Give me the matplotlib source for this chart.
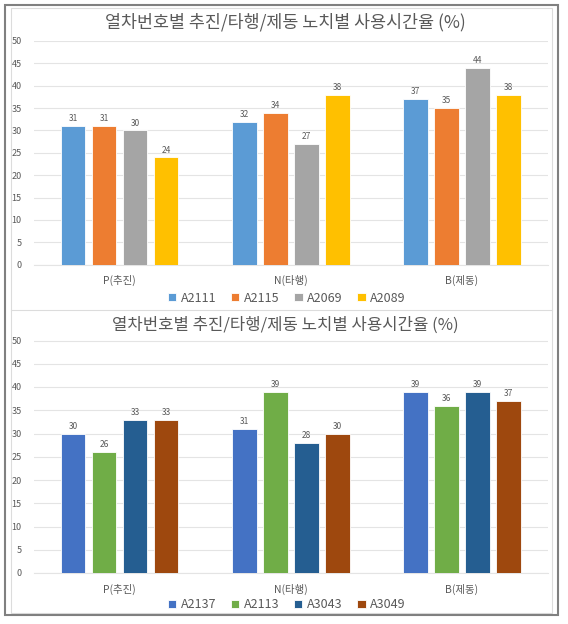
import matplotlib
matplotlib.use('Agg')
import matplotlib.pyplot as plt
from matplotlib.patches import Rectangle
from matplotlib.lines import Line2D
import numpy as np

plt.rcParams['font.family'] = ['Noto Sans CJK KR', 'DejaVu Sans']

title = '열차번호별 추진/타행/제동 노치별 사용시간율 (%)'
categories = ['P(추진)', 'N(타행)', 'B(제동)']

top_names = ['A2111', 'A2115', 'A2069', 'A2089']
top_values = [
	[31, 32, 37],
	[31, 34, 35],
	[30, 27, 44],
	[24, 38, 38],
]
top_colors = ['#5B9BD5', '#ED7D31', '#A5A5A5', '#FFC000']

bot_names = ['A2137', 'A2113', 'A3043', 'A3049']
bot_values = [
	[30, 31, 39],
	[26, 39, 36],
	[33, 28, 39],
	[33, 30, 37],
]
bot_colors = ['#4472C4', '#70AD47', '#255E91', '#9E480E']

W, H = 568, 624
fig = plt.figure(figsize=(W / 100, H / 100), dpi=100)
fig.patch.set_facecolor('white')

TXT = '#595959'


def fy(px):
	return 1 - px / H


def draw_chart(rect, names, values, colors, title_y, legend_y, tsize):
	ax = fig.add_axes(rect)
	x = np.arange(len(categories))
	step = 0.181
	width = 0.143
	for i, (name, vals, col) in enumerate(zip(names, values, colors)):
		off = (i - 1.5) * step
		bars = ax.bar(x + off, vals, width, color=col, edgecolor='white',
			linewidth=0.6, label=name, zorder=3)
		for b, v in zip(bars, vals):
			ax.text(b.get_x() + b.get_width() / 2, v + 0.6, str(v),
				ha='center', va='bottom', fontsize=6, color=TXT)
	ax.set_xlim(-0.5, 2.5)
	ax.set_ylim(0, 50)
	ax.set_yticks(range(0, 51, 5))
	ax.set_xticks(x)
	ax.set_xticklabels(categories, fontsize=7.5, color=TXT)
	ax.tick_params(axis='y', labelsize=6.5, colors=TXT, length=0, pad=9)
	ax.tick_params(axis='x', length=0, pad=7.5)
	ax.grid(axis='y', color='#E4E4E4', linewidth=0.8, zorder=0)
	for s in ax.spines.values():
		s.set_visible(False)
	ax.spines['bottom'].set_visible(True)
	ax.spines['bottom'].set_color('#E4E4E4')
	ax.set_axisbelow(True)
	fig.text(0.502, fy(title_y), title, ha='center', va='center',
		fontsize=tsize, color=TXT)
	ax.legend(loc='center', bbox_to_anchor=(0.505, fy(legend_y)),
		bbox_transform=fig.transFigure, ncol=4, frameon=False,
		fontsize=9, handlelength=0.65, handleheight=0.65,
		columnspacing=1.2, handletextpad=0.35, labelcolor=TXT)
	return ax


left = 34 / W
width = 513.6 / W
draw_chart([left, fy(264.7), width, 223.7 / H], top_names, top_values,
	top_colors, 22, 298, 12.5)
draw_chart([left, fy(573), width, 232.5 / H], bot_names, bot_values,
	bot_colors, 325, 605, 12)

# frames
fig.add_artist(Rectangle((11 / W, fy(613)), (552 - 11) / W, (613 - 8) / H,
	transform=fig.transFigure, fill=False, edgecolor='#DCDCDC', linewidth=0.8))
fig.add_artist(Line2D([11 / W, 552 / W], [fy(310), fy(310)],
	transform=fig.transFigure, color='#DCDCDC', linewidth=0.8))
fig.add_artist(Rectangle((4.5 / W, fy(615)), (558 - 4.5) / W, (615 - 4.5) / H,
	transform=fig.transFigure, fill=False, edgecolor='#808080', linewidth=1.5))

plt.savefig('out.png', dpi=100)
